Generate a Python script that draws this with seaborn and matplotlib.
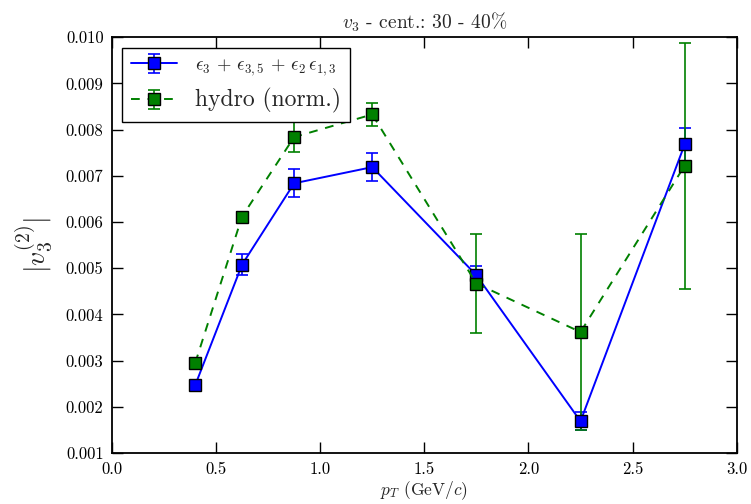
import matplotlib
matplotlib.use("Agg")
import matplotlib.pyplot as plt
from matplotlib.lines import Line2D
from matplotlib.legend_handler import HandlerTuple
import seaborn as sns
import pandas as pd

# pT bin centres (GeV/c)
pt = [0.4, 0.625, 0.875, 1.25, 1.75, 2.25, 2.75]

# eps_3 + eps_{3,5} + eps_2 eps_{1,3} estimator
v3_est = [0.00247, 0.00508, 0.00684, 0.00719, 0.00485, 0.00169, 0.00768]
v3_est_err = [0.00008, 0.00022, 0.00030, 0.00031, 0.00020, 0.00020, 0.00035]

# normalised hydro result
v3_hydro = [0.00295, 0.00612, 0.00784, 0.00833, 0.00467, 0.00362, 0.00722]
v3_hydro_err = [0.00008, 0.00010, 0.00033, 0.00025, 0.00108, 0.00212, 0.00266]

xticks = [0.0, 0.5, 1.0, 1.5, 2.0, 2.5, 3.0]
yticks = [0.001, 0.002, 0.003, 0.004, 0.005, 0.006, 0.007, 0.008, 0.009, 0.010]

label_est = r"$\epsilon_3$ + $\epsilon_{3,5}$ + $\epsilon_2\,\epsilon_{1,3}$"
label_hydro = "hydro (norm.)"

sns.set_style("ticks")
plt.rcParams["font.family"] = ["cmr10", "DejaVu Serif"]
plt.rcParams["mathtext.fontset"] = "cm"
plt.rcParams["axes.formatter.use_mathtext"] = True
plt.rcParams["axes.unicode_minus"] = False

df = pd.DataFrame({
    "pt": pt * 2,
    "v3": v3_est + v3_hydro,
    "err": v3_est_err + v3_hydro_err,
    "series": [label_est] * len(pt) + [label_hydro] * len(pt),
})

fig = plt.figure(figsize=(7.51, 5.04), dpi=100)
ax = fig.add_axes([0.149, 0.101, 0.832, 0.825])

dash = (4.5, 4.0)
styles = {
    label_est: dict(color="blue", dashes=None, z=3.0),
    label_hydro: dict(color="green", dashes=dash, z=3.2),
}

handles = []
for name, st in styles.items():
    sub = df[df["series"] == name]
    eb = ax.errorbar(sub["pt"], sub["v3"], yerr=sub["err"], fmt="none",
                     ecolor=st["color"], elinewidth=1.2, capsize=4,
                     capthick=1.2, zorder=st["z"] - 0.5)
    sns.lineplot(data=sub, x="pt", y="v3", ax=ax, color=st["color"],
                 linewidth=1.4, marker="s",
                 markersize=9, markeredgecolor="black",
                 markeredgewidth=1.0, zorder=st["z"], legend=False,
                 errorbar=None)
    line = ax.lines[-1]
    proxy = Line2D([], [], color=st["color"], linewidth=1.4, marker="s",
                   markersize=9, markeredgecolor="black",
                   markeredgewidth=1.0)
    if st["dashes"] is not None:
        line.set_dashes(st["dashes"])
        proxy.set_dashes(st["dashes"])
    handles.append((eb, proxy))

ax.set_xlim(0.0, 3.0)
ax.set_ylim(0.001, 0.010)
ax.set_xticks(xticks)
ax.set_xticklabels([f"{t:.1f}" for t in xticks], fontsize=12)
ax.set_yticks(yticks)
ax.set_yticklabels([f"{t:.3f}" for t in yticks], fontsize=12)
ax.tick_params(direction="in", length=8, width=1.0, top=True, right=True,
               pad=6, colors="black")
for sp in ax.spines.values():
    sp.set_visible(True)
    sp.set_linewidth(1.3)
    sp.set_color("black")

ax.set_title(r"$v_3$ - cent.: 30 - 40%", fontsize=14, pad=6)
ax.set_xlabel(r"$p_T$ (GeV/$c$)", fontsize=12.5, labelpad=2)
ax.set_ylabel(r"$|v_3^{(2)}|$", fontsize=20, labelpad=8)

leg = ax.legend(handles, [label_est, label_hydro], loc="upper left",
                fontsize=14, frameon=True, fancybox=False, framealpha=1,
                edgecolor="black", handlelength=2.37, handletextpad=0.93,
                borderpad=0.46, labelspacing=0.5, borderaxespad=0.53,
                handler_map={tuple: HandlerTuple(ndivide=1, pad=0)})
leg.get_frame().set_linewidth(1.0)
leg.get_texts()[0].set_fontsize(13.3)
leg.get_texts()[1].set_fontsize(17)

fig.savefig("out.png", dpi=100)
